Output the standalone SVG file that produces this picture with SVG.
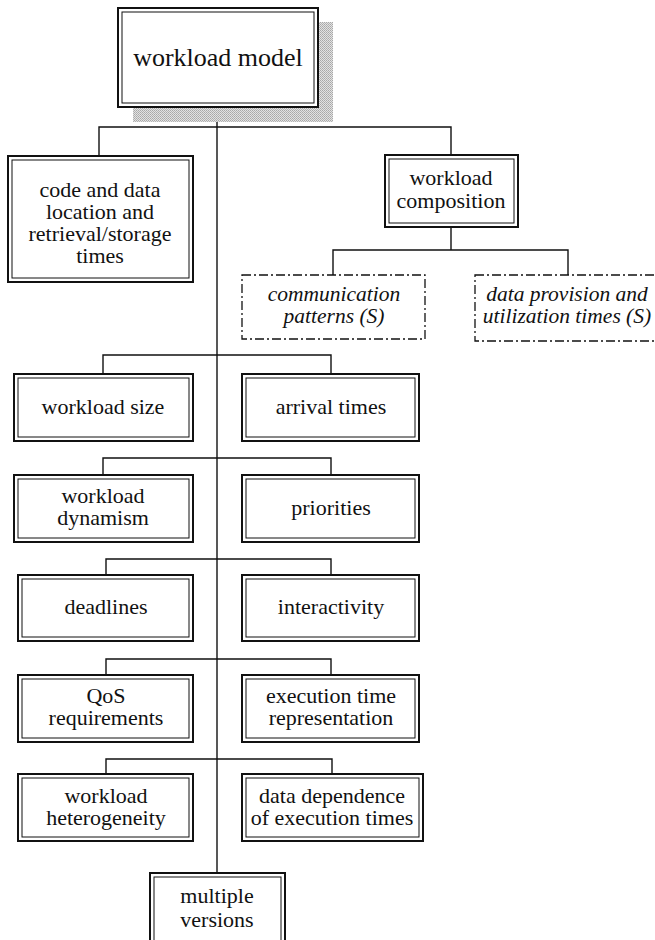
<svg xmlns="http://www.w3.org/2000/svg" width="655" height="940" viewBox="0 0 655 940">
  <style>
    .outer { fill: #fff; stroke: #111; stroke-width: 2; }
    .inner { fill: none; stroke: #111; stroke-width: 1; }
    .dash { fill: #fff; stroke: #111; stroke-width: 1.3; stroke-dasharray: 9 3 2 3; }
    .conn { fill: none; stroke: #111; stroke-width: 1.4; }
  </style>
  <defs>
    <!-- stippled grey used for the drop shadow of the root box -->
    <pattern id="stipple" width="2" height="2" patternUnits="userSpaceOnUse">
      <rect width="2" height="2" fill="#e2e2e2"/>
      <rect width="1" height="1" fill="#a8a8a8"/>
      <rect x="1" y="1" width="1" height="1" fill="#b4b4b4"/>
    </pattern>
  </defs>
  <rect width="655" height="940" fill="#fff"/>

  <!-- connectors -->
  <g id="connectors" class="conn">
    <path d="M217 107 V873"/>
    <path d="M99 156 V127 H451 V155"/>
    <path d="M451 227 V250"/>
    <path d="M333 275 V250 H568 V275"/>
    <path d="M103 374 V355 H331 V374"/>
    <path d="M103 475 V458 H331 V475"/>
    <path d="M106 575 V559 H331 V575"/>
    <path d="M106 675 V659 H331 V675"/>
    <path d="M106 774 V759 H332 V774"/>
  </g>

  <!-- boxes -->
  <g id="workload-model">
    <rect x="133" y="22" width="200" height="100" fill="url(#stipple)"/>
    <rect class="outer" x="118" y="8" width="200" height="99"/>
    <rect class="inner" x="122" y="12" width="192" height="91"/>
  </g>
  <g id="code-data-location">
    <rect class="outer" x="8" y="156" width="185" height="126"/>
    <rect class="inner" x="12" y="160" width="177" height="118"/>
  </g>
  <g id="workload-composition">
    <rect class="outer" x="385" y="155" width="133" height="72"/>
    <rect class="inner" x="389" y="159" width="125" height="64"/>
  </g>
  <g id="communication-patterns">
    <rect class="dash" x="242" y="275" width="183" height="64"/>
  </g>
  <g id="data-provision">
    <rect class="dash" x="475" y="275" width="190" height="66"/>
  </g>
  <g id="workload-size">
    <rect class="outer" x="14" y="374" width="179" height="67"/>
    <rect class="inner" x="18" y="378" width="171" height="59"/>
  </g>
  <g id="arrival-times">
    <rect class="outer" x="242" y="374" width="177" height="67"/>
    <rect class="inner" x="246" y="378" width="169" height="59"/>
  </g>
  <g id="workload-dynamism">
    <rect class="outer" x="14" y="475" width="179" height="67"/>
    <rect class="inner" x="18" y="479" width="171" height="59"/>
  </g>
  <g id="priorities">
    <rect class="outer" x="242" y="475" width="177" height="67"/>
    <rect class="inner" x="246" y="479" width="169" height="59"/>
  </g>
  <g id="deadlines">
    <rect class="outer" x="18" y="575" width="175" height="66"/>
    <rect class="inner" x="22" y="579" width="167" height="58"/>
  </g>
  <g id="interactivity">
    <rect class="outer" x="242" y="575" width="177" height="66"/>
    <rect class="inner" x="246" y="579" width="169" height="58"/>
  </g>
  <g id="qos-requirements">
    <rect class="outer" x="18" y="675" width="175" height="67"/>
    <rect class="inner" x="22" y="679" width="167" height="59"/>
  </g>
  <g id="execution-time-representation">
    <rect class="outer" x="242" y="675" width="177" height="67"/>
    <rect class="inner" x="246" y="679" width="169" height="59"/>
  </g>
  <g id="workload-heterogeneity">
    <rect class="outer" x="18" y="774" width="175" height="67"/>
    <rect class="inner" x="22" y="778" width="167" height="59"/>
  </g>
  <g id="data-dependence">
    <rect class="outer" x="242" y="774" width="181" height="67"/>
    <rect class="inner" x="246" y="778" width="173" height="59"/>
  </g>
  <g id="multiple-versions">
    <rect class="outer" x="150" y="873" width="135" height="75"/>
    <rect class="inner" x="154" y="877" width="127" height="67"/>
  </g>

  <!-- labels -->
  <g id="labels" font-family="Liberation Serif, Times New Roman, Tinos, DejaVu Serif, serif" font-size="22" fill="#111" text-anchor="middle">
    <text x="218" y="66" font-size="26">workload model</text>

    <text x="100" y="197">code and data</text>
    <text x="100" y="219">location and</text>
    <text x="100" y="241">retrieval/storage</text>
    <text x="100" y="263">times</text>

    <text x="451" y="185">workload</text>
    <text x="451" y="208">composition</text>

    <text x="334" y="301" font-style="italic" font-size="21.5">communication</text>
    <text x="334" y="323" font-style="italic" font-size="21.5">patterns (S)</text>
    <text x="567" y="301" font-style="italic" font-size="21.5">data provision and</text>
    <text x="567" y="323" font-style="italic" font-size="21.5">utilization times (S)</text>

    <text x="103" y="414">workload size</text>
    <text x="331" y="414">arrival times</text>

    <text x="103" y="503">workload</text>
    <text x="103" y="525">dynamism</text>
    <text x="331" y="515">priorities</text>

    <text x="106" y="614">deadlines</text>
    <text x="331" y="614">interactivity</text>

    <text x="106" y="703">QoS</text>
    <text x="106" y="725">requirements</text>
    <text x="331" y="703">execution time</text>
    <text x="331" y="725">representation</text>

    <text x="106" y="803">workload</text>
    <text x="106" y="825">heterogeneity</text>
    <text x="332" y="803">data dependence</text>
    <text x="332" y="825">of execution times</text>

    <text x="217" y="903">multiple</text>
    <text x="217" y="927">versions</text>
  </g>
</svg>
